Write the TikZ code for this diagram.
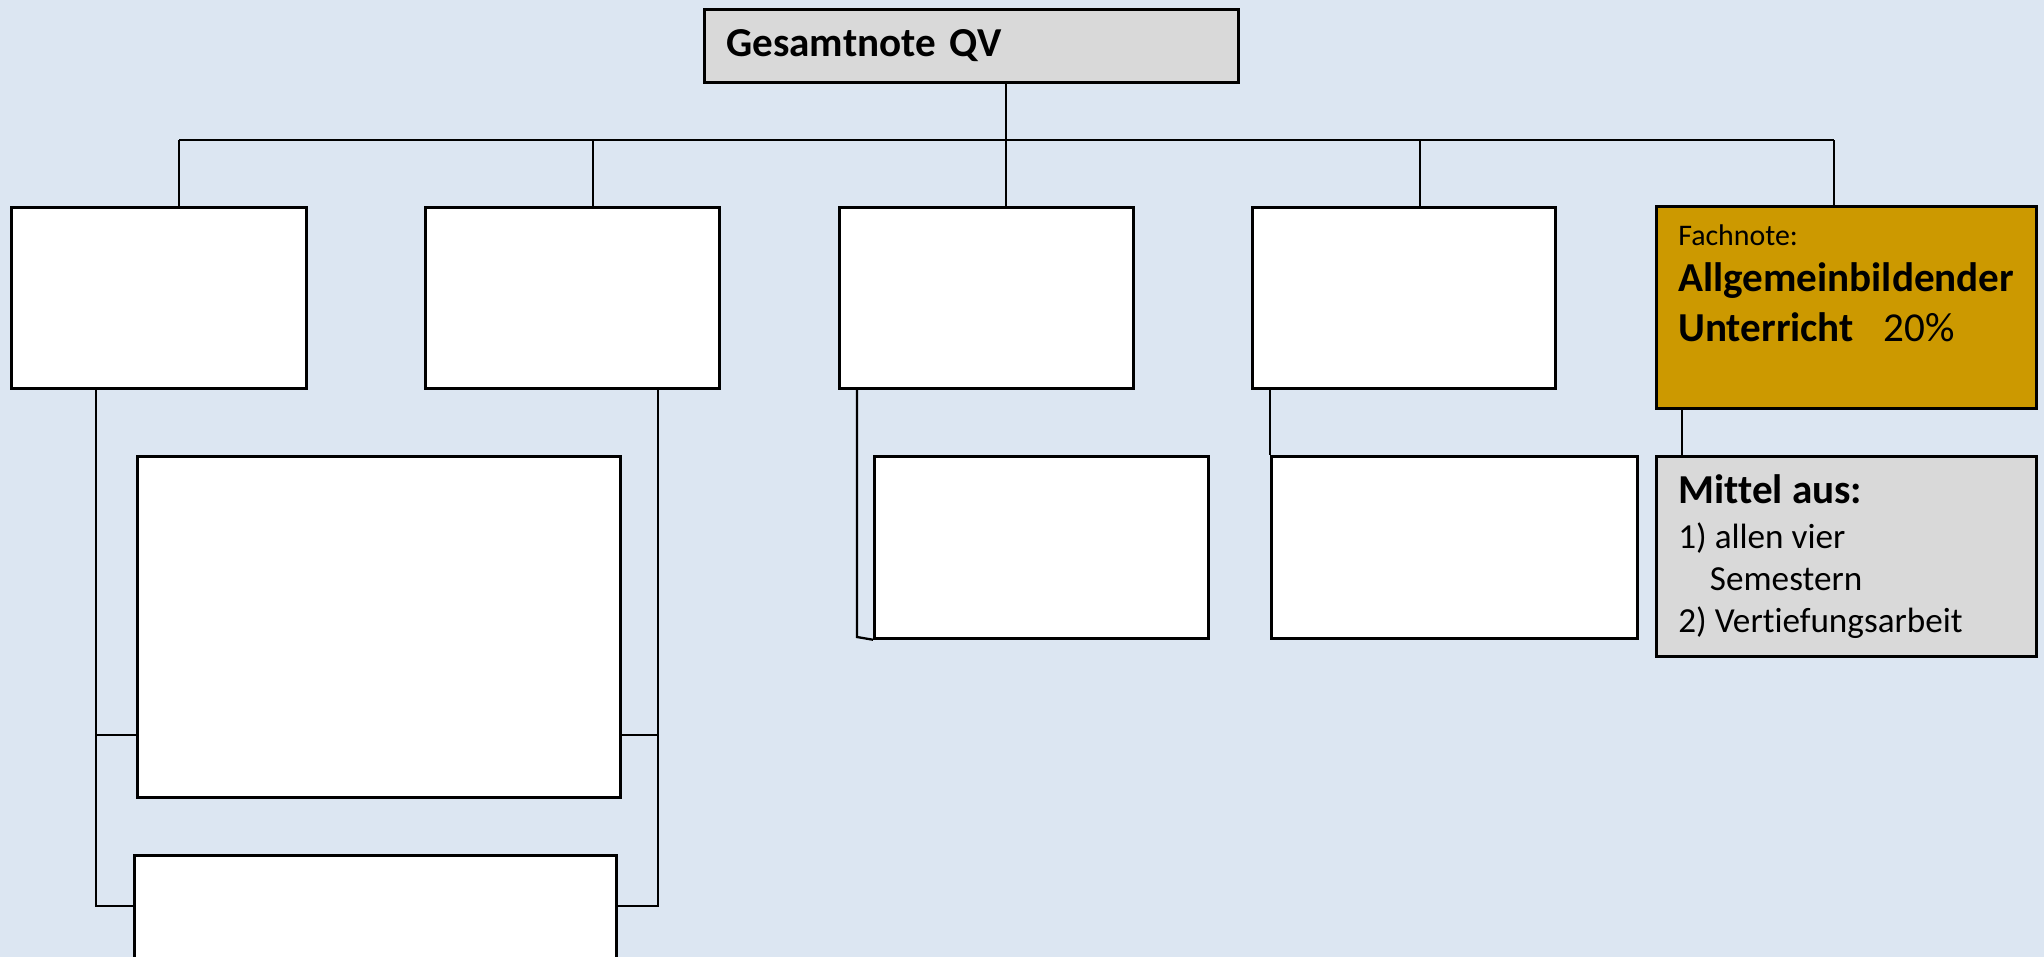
\documentclass[tikz,border=0pt]{standalone}
\usepackage{fontspec}
\setmainfont{Carlito}[Ligatures=NoCommon]
\definecolor{hintergrund}{HTML}{DCE6F2}
\definecolor{grau}{HTML}{D9D9D9}
\definecolor{ocker}{HTML}{CC9900}
\begin{document}
\begin{tikzpicture}[x=0.01cm, y=-0.01cm]

    \tikzstyle{box} = [rectangle, draw, line width=0.75pt, fill=white, anchor=north west, inner sep=0pt]
    \tikzstyle{textbox} = [box, inner xsep=0.22cm, inner ysep=0.18cm]
    \tikzstyle{line} = [line width=0.65pt]

    \useasboundingbox (0,0) rectangle (2044,957);
    \clip (0,0) rectangle (2044,957);
    \fill[hintergrund] (0,0) rectangle (2044,957);

    % oberste Ebene
    \node[textbox, fill=grau, minimum width=5.34cm, minimum height=0.73cm, text width=4.9cm, font=\fontsize{11.7}{14}\selectfont] (gesamt) at (703,8) {\textbf{Gesamtnote QV}};

    % erste Ebene
    \node[box, minimum width=2.95cm, minimum height=1.81cm] (k1) at (10,206) {};
    \node[box, minimum width=2.94cm, minimum height=1.81cm] (k2) at (424,206) {};
    \node[box, minimum width=2.94cm, minimum height=1.81cm] (k3) at (838,206) {};
    \node[box, minimum width=3.03cm, minimum height=1.81cm] (k4) at (1251,206) {};
    \node[textbox, fill=ocker] (abu) at (1655,205) {\parbox[t][1.66cm][t]{3.36cm}{\fontsize{11.7}{14}\selectfont
        {\fontsize{8.5}{10}\selectfont Fachnote:}\\[-0.7pt]
        \textbf{Allgemeinbildender}\\
        \textbf{Unterricht}\hspace{8.5pt}20\%}};

    % zweite Ebene
    \node[box, minimum width=4.83cm, minimum height=3.41cm] (k1a) at (136,455) {};
    \node[box, minimum width=4.82cm, minimum height=2.2cm] (k1b) at (133,854) {};
    \node[box, minimum width=3.34cm, minimum height=1.82cm] (k3a) at (873,455) {};
    \node[box, minimum width=3.66cm, minimum height=1.82cm] (k4a) at (1270,455) {};
    \node[textbox, fill=grau] (mittel) at (1655,455) {\parbox[t][1.64cm][t]{3.36cm}{\fontsize{10}{12}\selectfont
        {\fontsize{11.7}{14}\selectfont\textbf{Mittel aus:}}\\[0.8pt]
        1) allen vier\\
        \hspace*{9pt}Semestern\\
        2) Vertiefungsarbeit}};

    % Verbindungen
    \coordinate (s1) at (179,140);
    \coordinate (s2) at (593,140);
    \coordinate (s3) at (1006,140);
    \coordinate (s4) at (1420,140);
    \coordinate (s5) at (1834,140);
    \draw[line] (s1) -- (s5);
    \draw[line] (s3) -- (s3 |- gesamt.south);
    \draw[line] (s1) -- (s1 |- k1.north);
    \draw[line] (s2) -- (s2 |- k2.north);
    \draw[line] (s3) -- (s3 |- k3.north);
    \draw[line] (s4) -- (s4 |- k4.north);
    \draw[line] (s5) -- (s5 |- abu.north);

    \coordinate (links) at (96,906);
    \coordinate (rechts) at (658,906);
    \draw[line] (links |- k1.south) -- (links) -- (links -| k1b.west);
    \draw[line] (links |- 0,735) -- (links |- 0,735 -| k1a.west);
    \draw[line] (rechts |- k2.south) -- (rechts) -- (rechts -| k1b.east);
    \draw[line] (rechts |- 0,735) -- (rechts |- 0,735 -| k1a.east);

    \coordinate (mitte) at (857,637);
    \draw[line] (mitte |- k3.south) -- (mitte) -- (k3a.south west);
    \draw[line] (k4a.north west |- k4.south) -- (k4a.north west);
    \draw[line] ([xshift=0.27cm]abu.south west) -- ([xshift=0.27cm]mittel.north west);

\end{tikzpicture}
\end{document}
